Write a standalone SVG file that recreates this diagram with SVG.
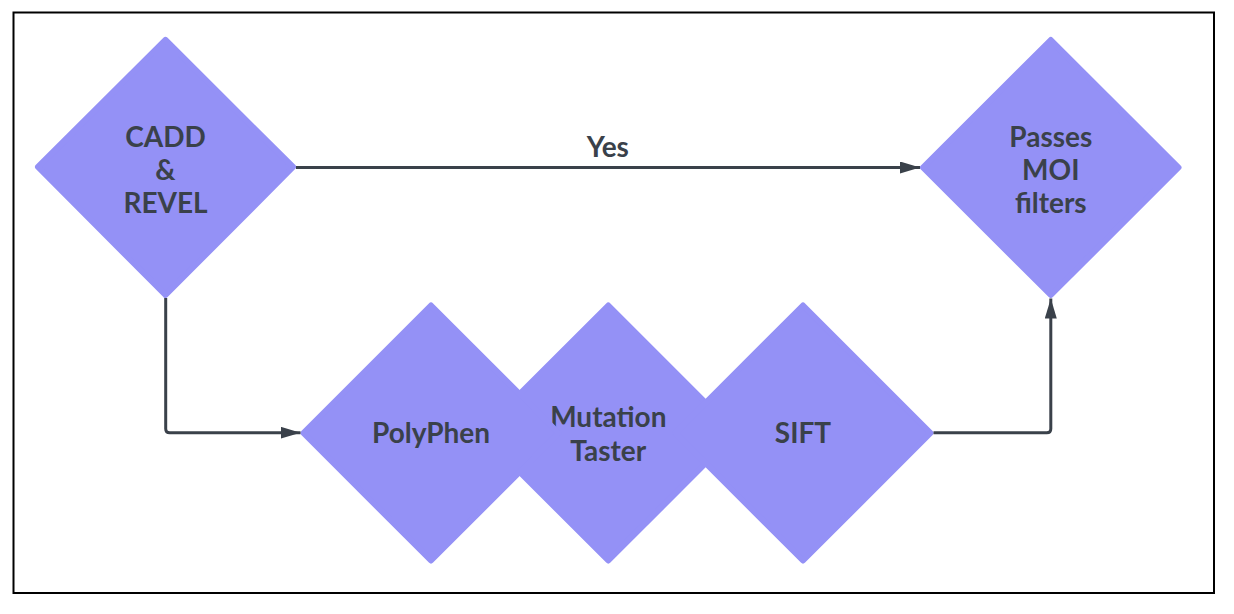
<svg xmlns="http://www.w3.org/2000/svg" width="1234" height="614" viewBox="0 0 1234 614">
  <style>
    .dia { fill: #9491F6; stroke: #9491F6; stroke-width: 6; stroke-linejoin: round; }
    .lbl { font-family: Lato, "Liberation Sans", sans-serif; font-weight: bold; font-size: 28px; fill: #3A414A; text-anchor: middle; }
    .conn { fill: none; stroke: #3A414A; stroke-width: 3; stroke-linejoin: round; }
  </style>
  <defs>
    <marker id="arr" viewBox="0 0 20 12" refX="20" refY="6" markerWidth="20" markerHeight="12" markerUnits="userSpaceOnUse" orient="auto">
      <path d="M0,0 L20,6 L0,12 Z" fill="#3A414A"/>
    </marker>
  </defs>
  <rect x="13.5" y="12.5" width="1200.5" height="580.5" fill="#FFFFFF" stroke="#000000" stroke-width="2"/>

  <g id="node-cadd">
    <polygon class="dia" points="165.5,40 293,167 165.5,295 38,167"/>
    <text class="lbl" x="165.5" y="147">CADD</text>
    <text class="lbl" x="165.5" y="180">&amp;</text>
    <text class="lbl" x="165.5" y="212.5">REVEL</text>
  </g>

  <g id="node-passes">
    <polygon class="dia" points="1050.8,40 1178.5,167.5 1050.8,295 923,167.5"/>
    <text class="lbl" x="1050.8" y="146.7">Passes</text>
    <text class="lbl" x="1050.8" y="179.5">MOI</text>
    <text class="lbl" x="1050.8" y="212.5">filters</text>
  </g>

  <g id="node-mutation">
    <polygon class="dia" points="608.3,305.5 735.8,433 608.3,560.5 480.8,433"/>
    <text class="lbl" x="608.3" y="427.3">Mutation</text>
    <text class="lbl" x="608.3" y="460.7">Taster</text>
  </g>

  <g id="node-polyphen">
    <polygon class="dia" points="431,305.5 558.5,433 431,560.5 303.5,433"/>
    <text class="lbl" x="431" y="443.3">PolyPhen</text>
  </g>

  <g id="node-sift">
    <polygon class="dia" points="803,305.5 930.5,433 803,560.5 675.5,433"/>
    <text class="lbl" x="803" y="443.3">SIFT</text>
  </g>

  <g id="connectors">
    <path class="conn" d="M296,167.5 L920,167.5" marker-end="url(#arr)"/>
    <text class="lbl" x="607.8" y="157.3">Yes</text>
    <path class="conn" d="M165.7,298 L165.7,428.7 Q165.7,432.7 169.7,432.7 L300.5,432.7" marker-end="url(#arr)"/>
    <path class="conn" d="M933.5,432.7 L1046.8,432.7 Q1050.8,432.7 1050.8,428.7 L1050.8,298.5" marker-end="url(#arr)"/>
  </g>
</svg>
